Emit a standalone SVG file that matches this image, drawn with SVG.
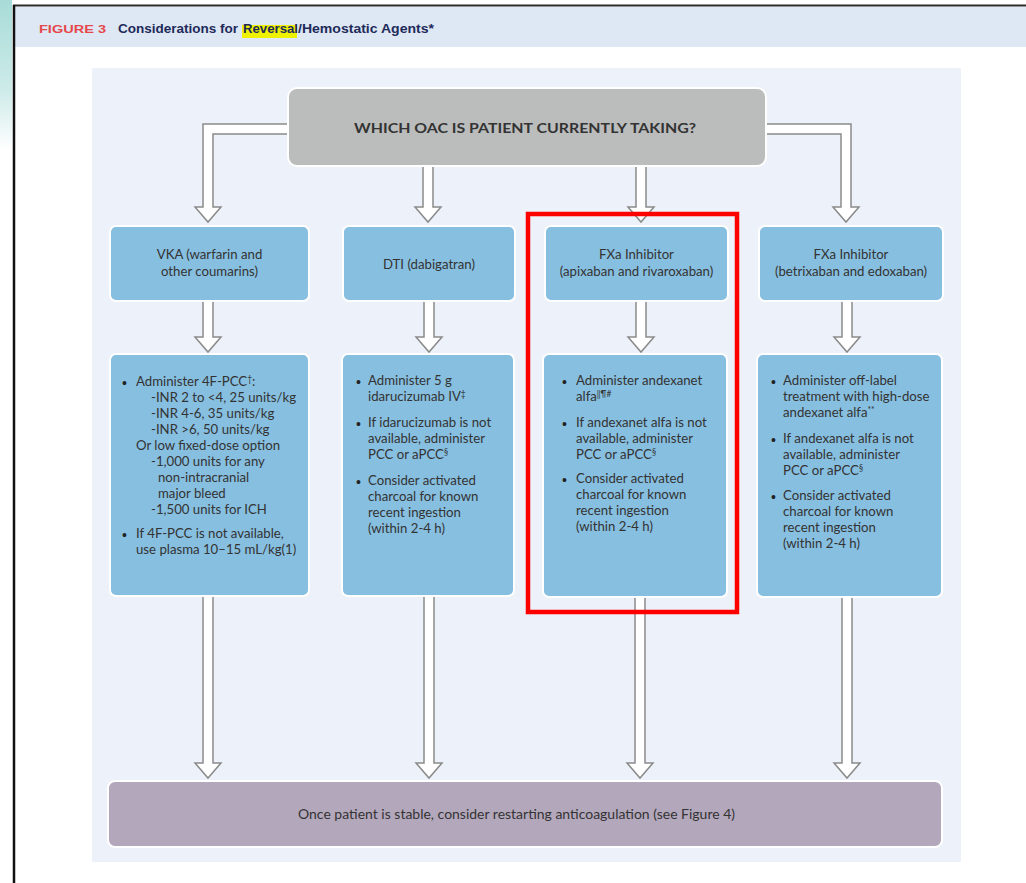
<svg xmlns="http://www.w3.org/2000/svg" width="1026" height="883" viewBox="0 0 1026 883">
<defs>
<linearGradient id="teal" x1="0" y1="0" x2="0" y2="1">
<stop offset="0" stop-color="#a8dcd8"/>
<stop offset="0.6" stop-color="#cdebe9"/>
<stop offset="1" stop-color="#ffffff"/>
</linearGradient>
<style>
.arr{fill:#fff;stroke:#8a8a8a;stroke-width:1.5;stroke-linejoin:miter}
.blue{fill:#87bfe0;stroke:#fff;stroke-width:2}
.t{font-family:Lato,"Open Sans","Liberation Sans",sans-serif;font-size:13.2px;fill:#333}
.c{text-anchor:middle}
.b{font-family:"Liberation Sans",Arial,sans-serif;font-size:14px;fill:#222}
.sup{font-size:8.5px}
</style>
</defs>
<rect x="0" y="0" width="1026" height="883" fill="#ffffff"/>
<rect x="0" y="0" width="12" height="150" fill="url(#teal)"/>
<rect x="15" y="7" width="1011" height="40" fill="#dde8f4"/>
<line x1="13" y1="5.5" x2="1026" y2="5.5" stroke="#2a2a2a" stroke-width="2"/>
<line x1="14" y1="5" x2="14" y2="883" stroke="#111" stroke-width="2.5"/>
<rect x="242" y="25" width="55" height="13" fill="#eef200"/>
<g id="title" font-family="'Liberation Sans',Arial,sans-serif" font-weight="bold">
<text x="39" y="33" font-size="11.5" fill="#e5474b" textLength="67" lengthAdjust="spacingAndGlyphs">FIGURE 3</text>
<text x="118" y="33" font-size="12.5" fill="#1f2a5a" textLength="120" lengthAdjust="spacingAndGlyphs">Considerations for</text>
<text x="243" y="33" font-size="12.5" fill="#1f2a5a" textLength="55" lengthAdjust="spacingAndGlyphs">Reversal</text>
<text x="298" y="33" font-size="12.5" fill="#1f2a5a" textLength="136" lengthAdjust="spacingAndGlyphs">/Hemostatic Agents*</text>
</g>
<rect x="92" y="68" width="869" height="794" fill="#edf1f9"/>
<g id="connectors">
<path class="arr" d="M289 124 H203 V207 H195 L208 222 L221 207 H213 V134 H289 Z"/>
<path class="arr" d="M423 164 V207 H415 L428 222 L441 207 H433 V164 Z"/>
<path class="arr" d="M636 164 V207 H628 L641 222 L654 207 H646 V164 Z"/>
<path class="arr" d="M764 124 H851 V207 H859 L846 222 L833 207 H841 V134 H764 Z"/>
<path class="arr" d="M203 299 V337 H195 L208 352 L221 337 H213 V299 Z"/>
<path class="arr" d="M424 299 V337 H416 L429 352 L442 337 H434 V299 Z"/>
<path class="arr" d="M636 299 V337 H628 L641 352 L654 337 H646 V299 Z"/>
<path class="arr" d="M842 299 V337 H834 L847 352 L860 337 H852 V299 Z"/>
<path class="arr" d="M203 594 V763 H195 L208 778 L221 763 H213 V594 Z"/>
<path class="arr" d="M424 594 V763 H416 L429 778 L442 763 H434 V594 Z"/>
<path class="arr" d="M635 594 V763 H627 L640 778 L653 763 H645 V594 Z"/>
<path class="arr" d="M842 594 V763 H834 L847 778 L860 763 H852 V594 Z"/>
</g>
<g id="question">
<rect x="288" y="88" width="478" height="78" rx="9" fill="#bbbcbc" stroke="#fff" stroke-width="2"/>
<text x="525" y="133" class="t c" font-weight="bold" font-size="13.5" fill="#2b2b2b" textLength="342" lengthAdjust="spacingAndGlyphs">WHICH OAC IS PATIENT CURRENTLY TAKING?</text>
</g>
<g id="vka">
<rect class="blue" x="110" y="226" width="199" height="75" rx="6"/>
<text class="t c" x="209.5" y="259">VKA (warfarin and</text>
<text class="t c" x="209.5" y="276">other coumarins)</text>
</g>
<g id="dti">
<rect class="blue" x="343" y="226" width="172" height="75" rx="6"/>
<text class="t c" x="429" y="269">DTI (dabigatran)</text>
</g>
<g id="fxa1">
<rect class="blue" x="545" y="226" width="183" height="75" rx="6"/>
<text class="t c" x="636.5" y="259">FXa Inhibitor</text>
<text class="t c" x="636.5" y="276">(apixaban and rivaroxaban)</text>
</g>
<g id="fxa2">
<rect class="blue" x="759" y="226" width="184" height="75" rx="6"/>
<text class="t c" x="851" y="259">FXa Inhibitor</text>
<text class="t c" x="851" y="276">(betrixaban and edoxaban)</text>
</g>
<g id="vka-details">
<rect class="blue" x="110" y="354" width="199" height="242" rx="6"/>
<text class="b" x="122" y="388">•</text>
<text class="t" x="136" y="386">Administer 4F-PCC<tspan class="sup" dy="-4">†</tspan><tspan dy="4">:</tspan></text>
<text class="t" x="151" y="402">-INR 2 to &lt;4, 25 units/kg</text>
<text class="t" x="151" y="418">-INR 4-6, 35 units/kg</text>
<text class="t" x="151" y="434">-INR &gt;6, 50 units/kg</text>
<text class="t" x="136" y="450">Or low fixed-dose option</text>
<text class="t" x="151" y="466">-1,000 units for any</text>
<text class="t" x="158" y="482">non-intracranial</text>
<text class="t" x="158" y="498">major bleed</text>
<text class="t" x="151" y="514">-1,500 units for ICH</text>
<text class="b" x="122" y="540">•</text>
<text class="t" x="136" y="538">If 4F-PCC is not available,</text>
<text class="t" x="136" y="554">use plasma 10–15 mL/kg(1)</text>
</g>
<g id="dti-details">
<rect class="blue" x="342" y="354" width="172" height="242" rx="6"/>
<text class="b" x="356" y="387">•</text>
<text class="t" x="368" y="385">Administer 5 g</text>
<text class="t" x="368" y="401">idarucizumab IV<tspan class="sup" dy="-4">‡</tspan></text>
<text class="b" x="356" y="429">•</text>
<text class="t" x="368" y="427">If idarucizumab is not</text>
<text class="t" x="368" y="443">available, administer</text>
<text class="t" x="368" y="459">PCC or aPCC<tspan class="sup" dy="-4">§</tspan></text>
<text class="b" x="356" y="487">•</text>
<text class="t" x="368" y="485">Consider activated</text>
<text class="t" x="368" y="501">charcoal for known</text>
<text class="t" x="368" y="517">recent ingestion</text>
<text class="t" x="368" y="533">(within 2-4 h)</text>
</g>
<g id="fxa1-details">
<rect class="blue" x="543" y="354" width="184" height="243" rx="6"/>
<text class="b" x="562" y="387">•</text>
<text class="t" x="576" y="385">Administer andexanet</text>
<text class="t" x="576" y="401">alfa<tspan class="sup" dy="-4">‖¶#</tspan></text>
<text class="b" x="562" y="429">•</text>
<text class="t" x="576" y="427">If andexanet alfa is not</text>
<text class="t" x="576" y="443">available, administer</text>
<text class="t" x="576" y="459">PCC or aPCC<tspan class="sup" dy="-4">§</tspan></text>
<text class="b" x="562" y="485">•</text>
<text class="t" x="576" y="483">Consider activated</text>
<text class="t" x="576" y="499">charcoal for known</text>
<text class="t" x="576" y="515">recent ingestion</text>
<text class="t" x="576" y="531">(within 2-4 h)</text>
</g>
<g id="fxa2-details">
<rect class="blue" x="757" y="354" width="185" height="243" rx="6"/>
<text class="b" x="771" y="387">•</text>
<text class="t" x="783" y="385">Administer off-label</text>
<text class="t" x="783" y="401">treatment with high-dose</text>
<text class="t" x="783" y="417">andexanet alfa<tspan class="sup" dy="-4">**</tspan></text>
<text class="b" x="771" y="445">•</text>
<text class="t" x="783" y="443">If andexanet alfa is not</text>
<text class="t" x="783" y="459">available, administer</text>
<text class="t" x="783" y="475">PCC or aPCC<tspan class="sup" dy="-4">§</tspan></text>
<text class="b" x="771" y="502">•</text>
<text class="t" x="783" y="500">Consider activated</text>
<text class="t" x="783" y="516">charcoal for known</text>
<text class="t" x="783" y="532">recent ingestion</text>
<text class="t" x="783" y="548">(within 2-4 h)</text>
</g>
<g id="restart">
<rect x="108" y="781" width="834" height="66" rx="7" fill="#b3a7bb" stroke="#fff" stroke-width="2"/>
<text class="t c" x="516.5" y="819" textLength="437" lengthAdjust="spacingAndGlyphs">Once patient is stable, consider restarting anticoagulation (see Figure 4)</text>
</g>
<rect id="highlight-box" x="528" y="214" width="209" height="398" fill="none" stroke="#ff0000" stroke-width="4.5"/>
</svg>
